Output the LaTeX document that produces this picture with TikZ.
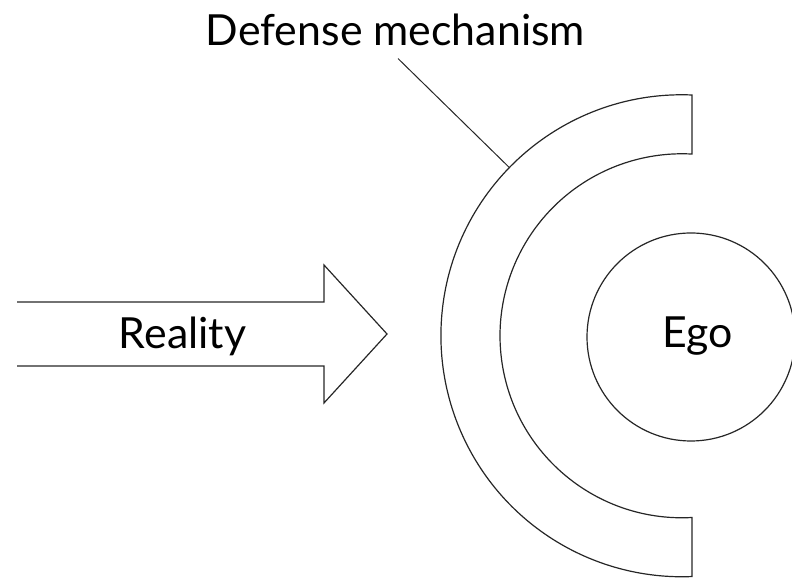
\documentclass[tikz,border=0pt]{standalone}
\usepackage{fontspec}
\setmainfont{Lato}
\begin{document}
\begin{tikzpicture}[x=1bp,y=1bp,
  line/.style={draw=black!85,line width=1.2bp,line join=miter},
  lbl/.style={font=\fontsize{43}{50}\selectfont,inner sep=0pt,anchor=base,text=black}]
\useasboundingbox (0,0) rectangle (792,579);
% Defense mechanism (C-shaped band)
\draw[line] (692,484) arc[start angle=87.6,end angle=272.4,radius=241]
  -- (692,61.5) arc[start angle=273.15,end angle=86.85,radius=182] -- cycle;
% Ego
\node[line,circle,minimum size=208bp,inner sep=0pt] (ego) at (691,242) {};
\node[lbl] (egolabel) at (698,231) {Ego};
% Reality arrow
\draw[line] (17,213) -- (324,213) -- (324,176) -- (387,245) -- (324,314) -- (324,277) -- (17,277);
\node[lbl] (reality) at (182.5,230) {Reality};
% Title and leader
\node[lbl] (title) at (395.5,533) {Defense mechanism};
\coordinate (arcpt) at (509.5,411.3);
\draw[line,line width=1bp] ([xshift=2.5bp,yshift=-12bp]title.south) -- (arcpt);
\end{tikzpicture}
\end{document}
